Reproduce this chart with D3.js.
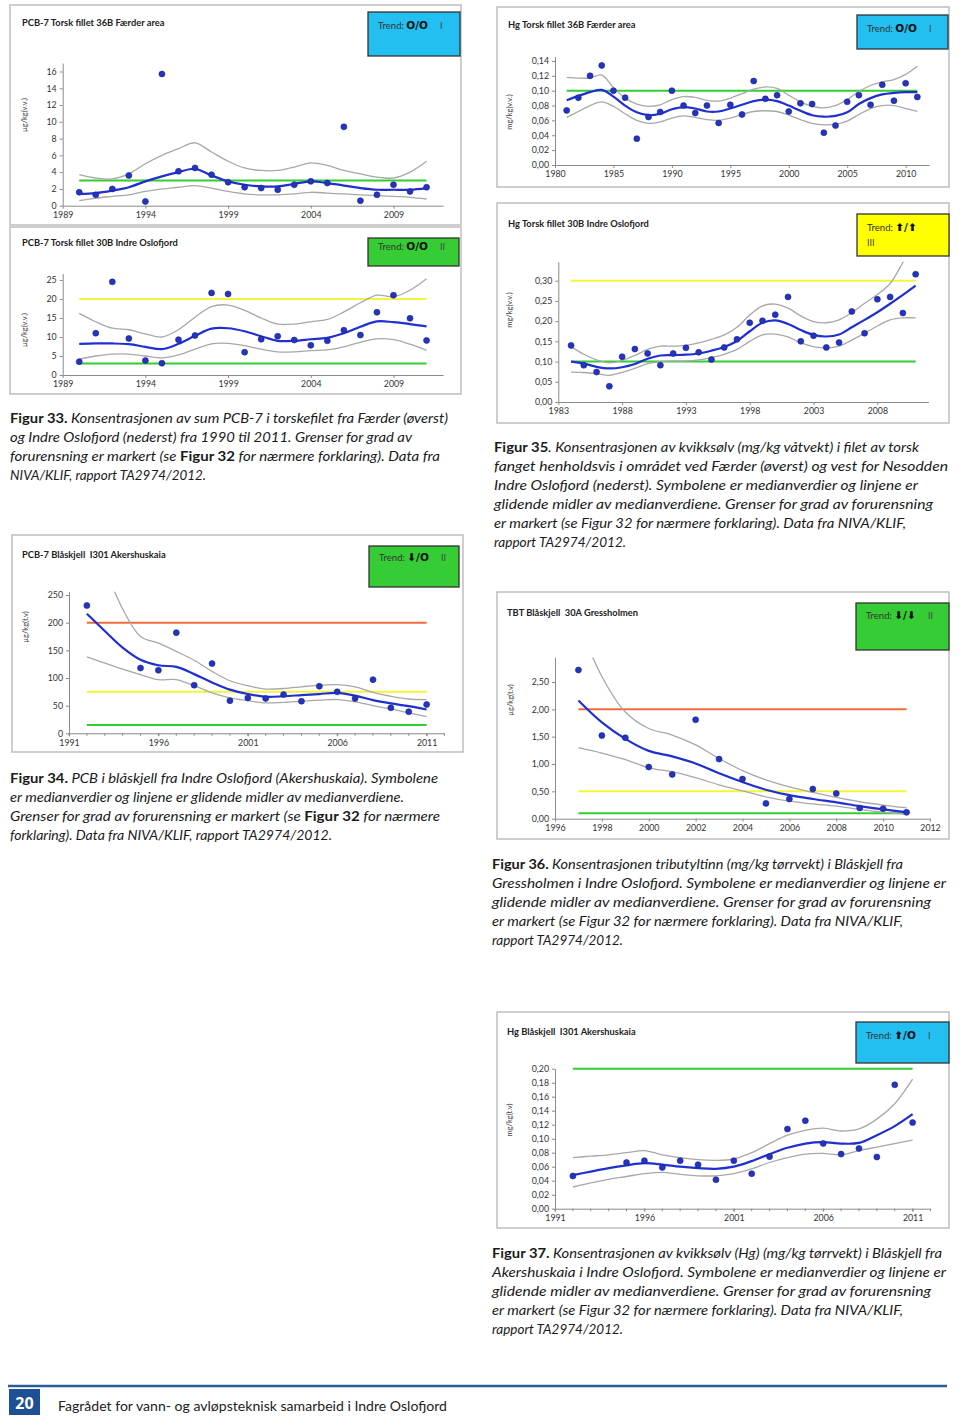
<!DOCTYPE html>
<html><head><meta charset="utf-8">
<script src="https://cdn.jsdelivr.net/npm/d3@7"></script>
<style>body{margin:0;background:#fff}svg{display:block}</style>
</head><body>
<svg id="page" width="960" height="1417"></svg>
<script>
// ---------------- DATA ----------------
const chartTitles = ["PCB-7 Torsk fillet 36B Færder area","PCB-7 Torsk fillet 30B Indre Oslofjord","Hg Torsk fillet 36B Færder area","Hg Torsk fillet 30B Indre Oslofjord","PCB-7 Blåskjell  I301 Akershuskaia","TBT Blåskjell  30A Gressholmen","Hg Blåskjell  I301 Akershuskaia"];
const unitLabels = ["µg/kg(v.v.)","µg/kg(v.v.)","mg/kg(v.v.)","mg/kg(v.v.)","µg/kg(t.v)","µg/kg(t.v)","mg/kg(t.v)"];
const trendSymbols = ["O/O","O/O","O/O","⬆/⬆","⬇/O","⬇/⬇","⬆/O"];
const trendClasses = ["I","II","I","III","II","II","I"];

// Chart 1: PCB-7 torsk Færder
const pcbFaerderYears = [1990,1991,1992,1993,1994,1995,1996,1997,1998,1999,2000,2001,2002,2003,2004,2005,2006,2007,2008,2009,2010,2011];
const pcbFaerderMedian = [1.6,1.3,2.0,3.6,0.5,15.7,4.1,4.5,3.7,2.8,2.2,2.1,1.9,2.5,2.9,2.7,9.4,0.6,1.3,2.5,1.7,2.2];
const pcbFaerderSmooth = [1.4,1.5,1.8,2.2,2.9,3.5,4.0,4.4,3.6,2.9,2.5,2.3,2.3,2.6,2.9,2.7,2.4,2.1,1.9,1.9,1.9,2.1];
const pcbFaerderUpper = [3.7,3.3,3.2,3.8,5.0,6.0,6.8,7.5,6.4,5.3,4.5,4.2,4.2,4.6,5.1,4.8,4.2,3.8,3.4,3.3,4.0,5.3];
const pcbFaerderLower = [0.6,0.9,1.1,1.3,1.7,2.0,2.2,2.4,2.1,1.7,1.4,1.3,1.3,1.4,1.6,1.5,1.4,1.3,1.2,1.1,1.0,0.8];
const pcbFaerderLimits = [3];
const pcbFaerderLimitClasses = ["I"];
const pcbFaerderXTicks = [1989,1994,1999,2004,2009];
const pcbFaerderYTicks = [0,2,4,6,8,10,12,14,16];

// Chart 2: PCB-7 torsk Indre Oslofjord
const pcbOsloYears = [1990,1991,1992,1993,1994,1995,1996,1997,1998,1999,2000,2001,2002,2003,2004,2005,2006,2007,2008,2009,2010,2011];
const pcbOsloMedian = [3.5,11.0,24.5,9.6,3.8,3.1,9.3,10.4,21.6,21.3,6.0,9.4,10.2,9.2,7.8,9.0,11.8,10.5,16.5,21.0,14.9,9.1];
const pcbOsloSmooth = [8.2,8.3,8.3,8.1,7.4,6.8,8.2,10.3,12.2,12.3,11.5,10.2,9.0,9.0,9.4,9.8,11.0,12.7,14.1,13.9,13.4,12.8];
const pcbOsloUpper = [16.2,14.0,12.3,11.9,10.8,10.0,11.9,15.2,18.0,18.4,17.0,15.0,13.4,13.4,14.0,14.6,16.6,19.0,21.0,20.6,22.3,25.3];
const pcbOsloLower = [4.2,5.0,5.5,5.5,5.0,4.5,5.3,6.8,8.2,8.3,7.7,6.8,6.1,6.1,6.4,6.6,7.4,8.6,9.5,9.3,8.1,6.5];
const pcbOsloLimits = [20,3];
const pcbOsloLimitClasses = ["II","I"];
const pcbOsloXTicks = [1989,1994,1999,2004,2009];
const pcbOsloYTicks = [0,5,10,15,20,25];

// Chart 3: Hg torsk Færder
const hgFaerderYears = [1981,1982,1983,1984,1985,1986,1987,1988,1989,1990,1991,1992,1993,1994,1995,1996,1997,1998,1999,2000,2001,2002,2003,2004,2005,2006,2007,2008,2009,2010,2011];
const hgFaerderMedian = [0.0735,0.0906,0.120,0.134,0.100,0.0906,0.0354,0.0646,0.0713,0.100,0.080,0.070,0.080,0.0565,0.081,0.068,0.113,0.089,0.094,0.072,0.083,0.082,0.0435,0.053,0.085,0.094,0.081,0.108,0.0865,0.110,0.0915];
const hgFaerderSmooth = [0.087,0.093,0.098,0.101,0.092,0.080,0.071,0.067,0.069,0.075,0.078,0.076,0.072,0.072,0.076,0.081,0.086,0.088,0.086,0.080,0.073,0.067,0.065,0.066,0.071,0.082,0.090,0.095,0.097,0.098,0.098];
const hgFaerderUpper = [0.118,0.117,0.117,0.121,0.104,0.090,0.082,0.079,0.081,0.088,0.092,0.091,0.087,0.086,0.090,0.096,0.102,0.105,0.103,0.094,0.085,0.079,0.077,0.080,0.088,0.099,0.107,0.112,0.115,0.122,0.133];
const hgFaerderLower = [0.064,0.072,0.080,0.085,0.079,0.069,0.060,0.056,0.058,0.063,0.066,0.064,0.061,0.060,0.063,0.068,0.072,0.073,0.072,0.067,0.061,0.056,0.054,0.055,0.059,0.068,0.076,0.080,0.080,0.076,0.072];
const hgFaerderLimits = [0.10];
const hgFaerderLimitClasses = ["I"];
const hgFaerderXTicks = [1980,1985,1990,1995,2000,2005,2010];
const hgFaerderYTicks = [0,0.02,0.04,0.06,0.08,0.10,0.12,0.14];

// Chart 4: Hg torsk Indre Oslofjord
const hgOsloYears = [1984,1985,1986,1987,1988,1989,1990,1991,1992,1993,1994,1995,1996,1997,1998,1999,2000,2001,2002,2003,2004,2005,2006,2007,2008,2009,2010,2011];
const hgOsloMedian = [0.140,0.091,0.074,0.039,0.112,0.131,0.120,0.091,0.120,0.134,0.123,0.105,0.135,0.155,0.196,0.201,0.216,0.260,0.150,0.164,0.135,0.147,0.224,0.170,0.254,0.260,0.220,0.316];
const hgOsloSmooth = [0.100,0.095,0.087,0.083,0.086,0.094,0.107,0.115,0.116,0.117,0.120,0.127,0.136,0.151,0.175,0.196,0.202,0.193,0.178,0.166,0.162,0.167,0.185,0.203,0.222,0.243,0.265,0.288];
const hgOsloUpper = [0.137,0.118,0.104,0.097,0.103,0.115,0.130,0.138,0.138,0.140,0.146,0.155,0.166,0.185,0.215,0.238,0.242,0.232,0.213,0.199,0.196,0.203,0.221,0.244,0.266,0.293,0.345,0.400];
const hgOsloLower = [0.074,0.073,0.070,0.066,0.073,0.083,0.095,0.100,0.101,0.101,0.104,0.110,0.118,0.130,0.150,0.166,0.168,0.161,0.146,0.137,0.134,0.138,0.153,0.170,0.188,0.203,0.208,0.208];
const hgOsloLimits = [0.30,0.10];
const hgOsloLimitClasses = ["II","I"];
const hgOsloXTicks = [1983,1988,1993,1998,2003,2008];
const hgOsloYTicks = [0,0.05,0.10,0.15,0.20,0.25,0.30];

// Chart 5: PCB-7 blåskjell Akershuskaia
const pcbMusselYears = [1992,1995,1996,1997,1998,1999,2000,2001,2002,2003,2004,2005,2006,2007,2008,2009,2010,2011];
const pcbMusselMedian = [231,118,114,182,87,126,59,64,63,70,58,85,75,63,97,46,39,52];
const pcbMusselTrendYears = [1992,1993,1994,1995,1996,1997,1998,1999,2000,2001,2002,2003,2004,2005,2006,2007,2008,2009,2010,2011];
const pcbMusselSmooth = [216,185,155,133,123,120,107,92,79,71,66,67,69,71,73,68,60,54,49,43];
const pcbMusselUpper = [null,300,225,175,163,148,132,112,95,86,80,81,84,87,88,84,74,67,62,61];
const pcbMusselLower = [138,127,116,106,97,97,86,73,64,59,55,56,58,60,61,57,50,44,37,30];
const pcbMusselLimits = [200,75,15];
const pcbMusselLimitClasses = ["III","II","I"];
const pcbMusselXTicks = [1991,1996,2001,2006,2011];
const pcbMusselYTicks = [0,50,100,150,200,250];

// Chart 6: TBT blåskjell Gressholmen
const tbtYears = [1997,1998,1999,2000,2001,2002,2003,2004,2005,2006,2007,2008,2009,2010,2011];
const tbtMedian = [2.72,1.52,1.48,0.945,0.81,1.81,1.09,0.725,0.28,0.36,0.543,0.463,0.195,0.183,0.116];
const tbtSmooth = [2.16,1.76,1.46,1.24,1.14,1.01,0.83,0.67,0.53,0.43,0.36,0.30,0.23,0.17,0.12];
const tbtUpper = [3.6,2.6,1.95,1.65,1.53,1.35,1.10,0.88,0.71,0.58,0.48,0.39,0.31,0.25,0.20];
const tbtLower = [1.30,1.20,1.08,0.93,0.86,0.75,0.62,0.51,0.40,0.32,0.27,0.23,0.17,0.12,0.08];
const tbtLimits = [2.0,0.5,0.1];
const tbtLimitClasses = ["III","II","I"];
const tbtXTicks = [1996,1998,2000,2002,2004,2006,2008,2010,2012];
const tbtYTicks = [0,0.5,1.0,1.5,2.0,2.5];

// Chart 7: Hg blåskjell Akershuskaia
const hgMusselYears = [1992,1995,1996,1997,1998,1999,2000,2001,2002,2003,2004,2005,2006,2007,2008,2009,2010,2011];
const hgMusselMedian = [0.0467,0.066,0.0686,0.059,0.0686,0.0629,0.0414,0.0686,0.050,0.0743,0.1138,0.1257,0.0933,0.078,0.086,0.0738,0.177,0.123];
const hgMusselTrendYears = [1992,1993,1994,1995,1996,1997,1998,1999,2000,2001,2002,2003,2004,2005,2006,2007,2008,2009,2010,2011];
const hgMusselSmooth = [0.048,0.053,0.058,0.062,0.065,0.063,0.060,0.058,0.057,0.060,0.068,0.078,0.087,0.093,0.095,0.093,0.094,0.105,0.118,0.135];
const hgMusselUpper = [0.073,0.075,0.077,0.080,0.083,0.077,0.073,0.070,0.069,0.071,0.080,0.093,0.105,0.112,0.115,0.111,0.114,0.128,0.150,0.185];
const hgMusselLower = [0.031,0.037,0.042,0.046,0.050,0.052,0.049,0.047,0.047,0.050,0.057,0.066,0.073,0.078,0.079,0.077,0.083,0.088,0.093,0.098];
const hgMusselLimits = [0.20];
const hgMusselLimitClasses = ["I"];
const hgMusselXTicks = [1991,1996,2001,2006,2011];
const hgMusselYTicks = [0,0.02,0.04,0.06,0.08,0.10,0.12,0.14,0.16,0.18,0.20];

// ---------------- ASSEMBLY ----------------
const datasets = [
 {years:pcbFaerderYears, median:pcbFaerderMedian, tYears:pcbFaerderYears, smooth:pcbFaerderSmooth, upper:pcbFaerderUpper, lower:pcbFaerderLower, limits:pcbFaerderLimits, limCls:pcbFaerderLimitClasses, xt:pcbFaerderXTicks, yt:pcbFaerderYTicks},
 {years:pcbOsloYears, median:pcbOsloMedian, tYears:pcbOsloYears, smooth:pcbOsloSmooth, upper:pcbOsloUpper, lower:pcbOsloLower, limits:pcbOsloLimits, limCls:pcbOsloLimitClasses, xt:pcbOsloXTicks, yt:pcbOsloYTicks},
 {years:hgFaerderYears, median:hgFaerderMedian, tYears:hgFaerderYears, smooth:hgFaerderSmooth, upper:hgFaerderUpper, lower:hgFaerderLower, limits:hgFaerderLimits, limCls:hgFaerderLimitClasses, xt:hgFaerderXTicks, yt:hgFaerderYTicks},
 {years:hgOsloYears, median:hgOsloMedian, tYears:hgOsloYears, smooth:hgOsloSmooth, upper:hgOsloUpper, lower:hgOsloLower, limits:hgOsloLimits, limCls:hgOsloLimitClasses, xt:hgOsloXTicks, yt:hgOsloYTicks},
 {years:pcbMusselYears, median:pcbMusselMedian, tYears:pcbMusselTrendYears, smooth:pcbMusselSmooth, upper:pcbMusselUpper, lower:pcbMusselLower, limits:pcbMusselLimits, limCls:pcbMusselLimitClasses, xt:pcbMusselXTicks, yt:pcbMusselYTicks},
 {years:tbtYears, median:tbtMedian, tYears:tbtYears, smooth:tbtSmooth, upper:tbtUpper, lower:tbtLower, limits:tbtLimits, limCls:tbtLimitClasses, xt:tbtXTicks, yt:tbtYTicks},
 {years:hgMusselYears, median:hgMusselMedian, tYears:hgMusselTrendYears, smooth:hgMusselSmooth, upper:hgMusselUpper, lower:hgMusselLower, limits:hgMusselLimits, limCls:hgMusselLimitClasses, xt:hgMusselXTicks, yt:hgMusselYTicks}
];

const layouts = [
 {frame:[10,5,461,225], xd:[1989,2012], xr:[62.7,443.1], yd:[0,17], yr:[205.7,63.1], fmt:"int", title:[22,26], ylab:[27,115], trend:[368,12,460,56], tb:29, minor:false},
 {frame:[10,227,461,394], xd:[1989,2012], xr:[62.7,443.1], yd:[0,26.7], yr:[375,273.5], fmt:"int", title:[22,246], ylab:[27,330], trend:[368,238,459,266], tb:250, minor:false},
 {frame:[497,7,949,187], xd:[1980,2012], xr:[555,929], yd:[0,0.146], yr:[165,56.5], fmt:"2", title:[508,28], ylab:[512,112], trend:[857,15,948,49], tb:32, minor:false},
 {frame:[497,203,949,423], xd:[1983,2012], xr:[558.3,928.4], yd:[0,0.347], yr:[402,261.7], fmt:"2", title:[508,227], ylab:[512,310], trend:[857,214,949,256], tb:231, minor:false, twoLine:true},
 {frame:[12,535,463,752], xd:[1991,2012], xr:[69,444.5], yd:[0,256], yr:[733.3,591.7], fmt:"int", title:[22,558], ylab:[28,627], trend:[369,546,459,587], tb:561, minor:true},
 {frame:[497,592,949,839], xd:[1996,2012], xr:[555,930], yd:[0,2.95], yr:[818.7,657.4], fmt:"2", title:[507,616], ylab:[513,700], trend:[856,603,949,650], tb:619, minor:false},
 {frame:[497,1012,949,1228], xd:[1991,2012], xr:[555,930.5], yd:[0,0.2], yr:[1208.7,1068.7], fmt:"2", title:[507,1035], ylab:[512,1120], trend:[856,1022,949,1063], tb:1039, minor:true}
];

const trendFill = {"I":"#22bff0","II":"#35cc35","III":"#ffff00"};
const limitColor = {"I":"#33cc33","II":"#f4f43a","III":"#f06c3c"};
const chartFont = "Lato, 'Open Sans', sans-serif";

const svg = d3.select("#page");
const defs = svg.append("defs");

function drawChart(i){
  const L = layouts[i], D = datasets[i];
  const g = svg.append("g");
  const f = L.frame;
  g.append("rect").attr("x",f[0]).attr("y",f[1]).attr("width",f[2]-f[0]).attr("height",f[3]-f[1])
    .attr("fill","#fff").attr("stroke","#c2c2c2").attr("stroke-width",1.6);
  const x = d3.scaleLinear().domain(L.xd).range(L.xr);
  const y = d3.scaleLinear().domain(L.yd).range(L.yr);

  const comma = v => d3.format(".2f")(v).replace(".", ",");
  const yfmt = L.fmt==="int" ? d3.format("d") : comma;

  const xa = g.append("g").attr("transform",`translate(0,${L.yr[0]})`)
    .call(d3.axisBottom(x).tickValues(D.xt).tickFormat(d3.format("d")).tickSize(3).tickSizeOuter(0).tickPadding(3));
  const ya = g.append("g").attr("transform",`translate(${L.xr[0]},0)`)
    .call(d3.axisLeft(y).tickValues(D.yt).tickFormat(yfmt).tickSize(3).tickSizeOuter(0).tickPadding(3));
  [xa,ya].forEach(a=>{
    a.select(".domain").attr("stroke","#8a8a8a").attr("stroke-width",1);
    a.selectAll(".tick line").attr("stroke","#8a8a8a");
    a.selectAll(".tick text").attr("fill","#333").style("font-family",chartFont).style("font-size","8.8px");
  });
  if (L.minor){
    const yrs = d3.range(L.xd[0], L.xd[1]+1);
    g.append("g").selectAll("line").data(yrs).join("line")
      .attr("x1",d=>x(d)).attr("x2",d=>x(d)).attr("y1",L.yr[0]).attr("y2",L.yr[0]+2.5)
      .attr("stroke","#8a8a8a").attr("stroke-width",1);
  }

  g.append("text").attr("x",L.title[0]).attr("y",L.title[1]).text(chartTitles[i])
    .style("font-family",chartFont).style("font-weight","bold").style("font-size","9.3px").attr("fill","#222").attr("xml:space","preserve");
  g.append("text").attr("transform",`translate(${L.ylab[0]},${L.ylab[1]}) rotate(-90)`).attr("text-anchor","middle")
    .text(unitLabels[i]).style("font-family",chartFont).style("font-size","7.5px").attr("fill","#444");

  const t = L.trend;
  g.append("rect").attr("x",t[0]).attr("y",t[1]).attr("width",t[2]-t[0]).attr("height",t[3]-t[1])
    .attr("fill",trendFill[trendClasses[i]]).attr("stroke","#333").attr("stroke-width",1.3);
  const tt = g.append("text").attr("x",t[0]+10).attr("y",L.tb).style("font-family",chartFont);
  tt.append("tspan").text("Trend: ").style("font-size","9.5px").attr("fill","#333");
  tt.append("tspan").text(trendSymbols[i]).style("font-size","10.5px").style("font-weight","bold")
    .style("font-family","'DejaVu Sans', sans-serif").attr("fill","#111");
  if (L.twoLine){
    g.append("text").attr("x",t[0]+10).attr("y",L.tb+15).text(trendClasses[i]).style("font-family",chartFont).style("font-size","9px").attr("fill","#444");
  } else {
    g.append("text").attr("x",t[0]+72).attr("y",L.tb).text(trendClasses[i]).style("font-family",chartFont).style("font-size","9px").attr("fill","#444");
  }

  const x0 = x(d3.min(D.tYears)), x1 = x(d3.max(D.tYears));
  g.append("g").selectAll("line").data(D.limits).join("line")
    .attr("x1",x0).attr("x2",x1).attr("y1",d=>y(d)).attr("y2",d=>y(d))
    .attr("stroke",(d,k)=>limitColor[D.limCls[k]]).attr("stroke-width",2);

  const cid = "clip"+i;
  defs.append("clipPath").attr("id",cid).append("rect")
    .attr("x",L.xr[0]).attr("y",L.yr[1]).attr("width",L.xr[1]-L.xr[0]).attr("height",L.yr[0]-L.yr[1]);
  const pg = g.append("g").attr("clip-path",`url(#${cid})`);
  const line = d3.line().defined(d=>d[1]!==null).x(d=>x(d[0])).y(d=>y(d[1])).curve(d3.curveCatmullRom.alpha(0.5));
  const pts = arr => D.tYears.map((yr,k)=>[yr,arr[k]]);
  pg.append("path").attr("d",line(pts(D.upper))).attr("fill","none").attr("stroke","#a8a8a8").attr("stroke-width",1.3);
  pg.append("path").attr("d",line(pts(D.lower))).attr("fill","none").attr("stroke","#a8a8a8").attr("stroke-width",1.3);
  pg.append("path").attr("d",line(pts(D.smooth))).attr("fill","none").attr("stroke","#1f2fd2").attr("stroke-width",2.2);

  g.append("g").selectAll("circle").data(D.years.map((yr,k)=>[yr,D.median[k]])).join("circle")
    .attr("cx",d=>x(d[0])).attr("cy",d=>y(d[1])).attr("r",3)
    .attr("fill","#2433c0").attr("stroke","#18228a").attr("stroke-width",0.6);
}
for (let i=0;i<7;i++) drawChart(i);

// ---------------- CAPTIONS ----------------
const captions = [
 {x:10, y:423, w:[438,402,430,196], lines:[
   [["Figur 33.",1],[" Konsentrasjonen av sum PCB-7 i torskefilet fra Færder (øverst)",0]],
   [["og Indre Oslofjord (nederst) fra 1990 til 2011. Grenser for grad av",0]],
   [["forurensning er markert (se ",0],["Figur 32",1],[" for nærmere forklaring). Data fra",0]],
   [["NIVA/KLIF, rapport TA2974/2012.",0]]]},
 {x:494, y:452, w:[425,454,424,439,412,132], lines:[
   [["Figur 35",1],[". Konsentrasjonen av kvikksølv (mg/kg våtvekt) i filet av torsk",0]],
   [["fanget henholdsvis i området ved Færder (øverst) og vest for Nesodden",0]],
   [["Indre Oslofjord (nederst). Symbolene er medianverdier og linjene er",0]],
   [["glidende midler av medianverdiene. Grenser for grad av forurensning",0]],
   [["er markert (se Figur 32 for nærmere forklaring). Data fra NIVA/KLIF,",0]],
   [["rapport TA2974/2012.",0]]]},
 {x:10, y:783, w:[428,394,430,322], lines:[
   [["Figur 34.",1],[" PCB i blåskjell fra Indre Oslofjord (Akershuskaia). Symbolene",0]],
   [["er medianverdier og linjene er glidende midler av medianverdiene.",0]],
   [["Grenser for grad av forurensning er markert (se ",0],["Figur 32",1],[" for nærmere",0]],
   [["forklaring). Data fra NIVA/KLIF, rapport TA2974/2012.",0]]]},
 {x:492, y:869, w:[411,454,439,411,131], lines:[
   [["Figur 36.",1],[" Konsentrasjonen tributyltinn (mg/kg tørrvekt) i Blåskjell fra",0]],
   [["Gressholmen i Indre Oslofjord. Symbolene er medianverdier og linjene er",0]],
   [["glidende midler av medianverdiene. Grenser for grad av forurensning",0]],
   [["er markert (se Figur 32 for nærmere forklaring). Data fra NIVA/KLIF,",0]],
   [["rapport TA2974/2012.",0]]]},
 {x:492, y:1258, w:[450,454,439,411,131], lines:[
   [["Figur 37.",1],[" Konsentrasjonen av kvikksølv (Hg) (mg/kg tørrvekt) i Blåskjell fra",0]],
   [["Akershuskaia i Indre Oslofjord. Symbolene er medianverdier og linjene er",0]],
   [["glidende midler av medianverdiene. Grenser for grad av forurensning",0]],
   [["er markert (se Figur 32 for nærmere forklaring). Data fra NIVA/KLIF,",0]],
   [["rapport TA2974/2012.",0]]]}
];
captions.forEach(c=>{
  c.lines.forEach((ln,k)=>{
    const t = svg.append("text").attr("x",c.x).attr("y",c.y+k*19)
      .attr("textLength",c.w[k]).attr("lengthAdjust","spacingAndGlyphs")
      .style("font-family","Lato, 'Open Sans', sans-serif").style("font-size","13.5px").attr("fill","#1a1a1a")
      .attr("xml:space","preserve");
    ln.forEach(s=>{
      t.append("tspan").text(s[0]).style("font-weight",s[1]?"bold":"normal").style("font-style",s[1]?"normal":"italic");
    });
  });
});

// ---------------- FOOTER ----------------
svg.append("line").attr("x1",8).attr("x2",947).attr("y1",1386).attr("y2",1386).attr("stroke","#2d5b96").attr("stroke-width",2.5);
svg.append("rect").attr("x",9).attr("y",1389).attr("width",31).attr("height",26).attr("fill","#1f4f95");
svg.append("text").attr("x",24.5).attr("y",1408.5).attr("text-anchor","middle").text("20")
  .style("font-family","'Open Sans', sans-serif").style("font-weight","bold").style("font-size","16px").attr("fill","#fff");
svg.append("text").attr("x",58).attr("y",1411).text("Fagrådet for vann- og avløpsteknisk samarbeid i Indre Oslofjord")
  .attr("textLength",389).attr("lengthAdjust","spacingAndGlyphs")
  .style("font-family","Lato, sans-serif").style("font-size","13px").attr("fill","#222");
</script>
</body></html>
